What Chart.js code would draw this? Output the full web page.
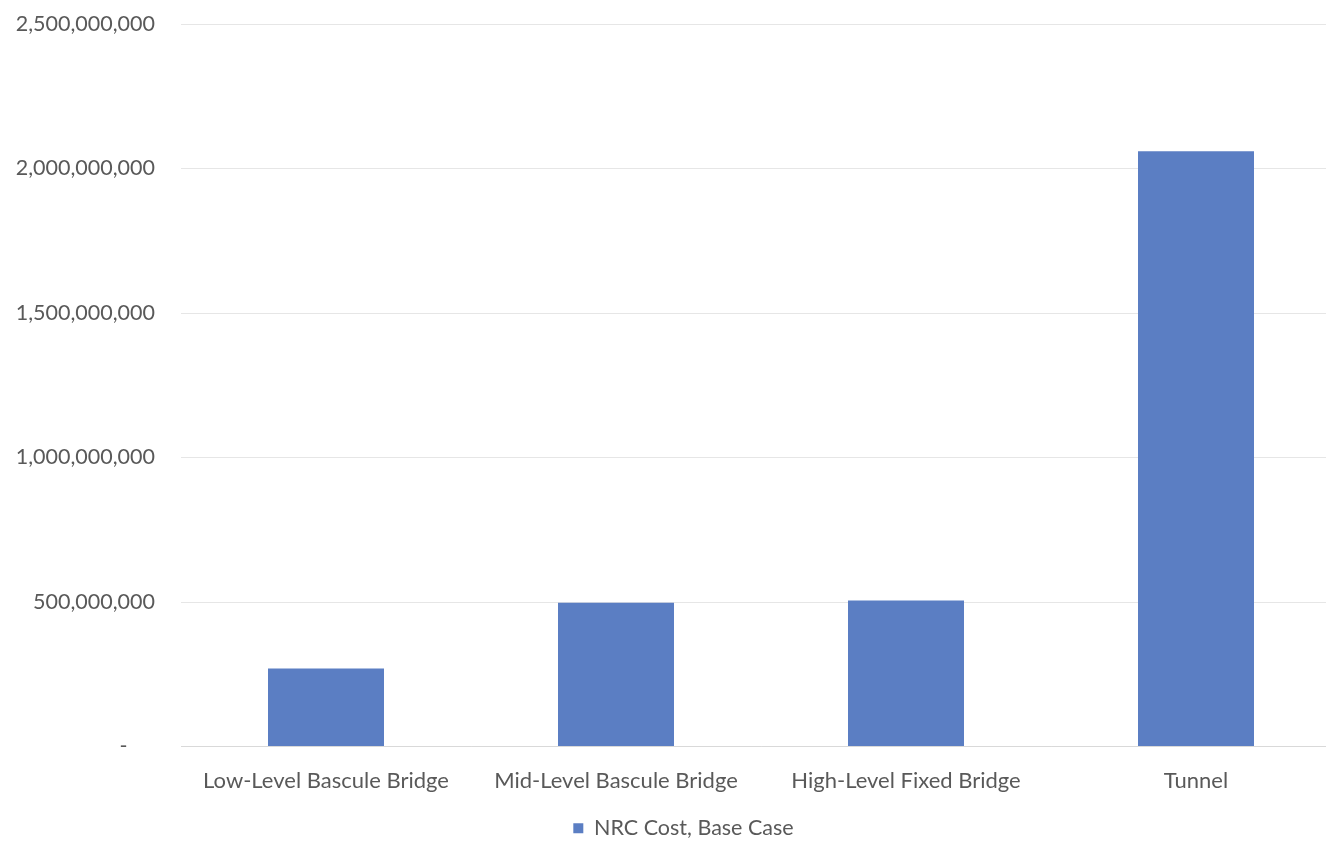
<!DOCTYPE html>
<html><head><meta charset="utf-8">
<script src="https://cdn.jsdelivr.net/npm/chart.js@4/dist/chart.umd.min.js"></script>
<style>
html,body{margin:0;padding:0;background:#fff;overflow:hidden;}
#wrap{position:relative;width:1366px;height:841px;}
</style></head>
<body><div id="wrap"><canvas id="c" width="1366" height="841"></canvas></div>
<script>
const categories = ["Low-Level Bascule Bridge","Mid-Level Bascule Bridge","High-Level Fixed Bridge","Tunnel"];
const seriesName = "NRC Cost, Base Case";
const nrcCost = [270000000, 497000000, 505000000, 2060000000];
const yTicks = [0, 500000000, 1000000000, 1500000000, 2000000000, 2500000000];

const FONT = "Lato";
const TXT = "#595959";
const legendShift = {
  id: 'legendShift',
  afterLayout(chart) { if (chart.legend) { chart.legend.left += 13; chart.legend.right += 13; } }
};
new Chart(document.getElementById('c'), {
  type: 'bar',
  data: { labels: categories, datasets: [{ label: seriesName, data: nrcCost, backgroundColor: '#5b7ec3', borderWidth: 0, barPercentage: 0.4, categoryPercentage: 1.0 }] },
  plugins: [legendShift],
  options: {
    responsive: false, animation: false, devicePixelRatio: 1,
    layout: { padding: { top: 24, right: 25, bottom: -8, left: 0 } },
    plugins: {
      legend: { position: 'bottom', labels: { font: { family: FONT, size: 21.5 }, color: TXT, boxWidth: 10, boxHeight: 10, padding: 6 } },
      tooltip: { enabled: false }
    },
    scales: {
      x: {
        afterFit: (s) => { s.height = 65; },
        grid: { display: false, drawTicks: false },
        border: { color: '#d9d9d9', width: 1 },
        ticks: { font: { family: FONT, size: 22 }, color: TXT, padding: 21, maxRotation: 0 }
      },
      y: {
        min: 0, max: 2500000000,
        afterBuildTicks: (s) => { s.ticks = yTicks.map(v => ({ value: v })); },
        afterFit: (s) => { s.width = 181; s.paddingTop = 0; s.paddingBottom = 0; },
        grid: { color: '#e6e6e6', drawTicks: false },
        border: { display: false },
        ticks: { font: { family: FONT, size: 21.5 }, color: TXT, padding: 26,
          callback: (v) => v === 0 ? '-     ' : v.toLocaleString('en-US') }
      }
    }
  }
});
</script></body></html>
